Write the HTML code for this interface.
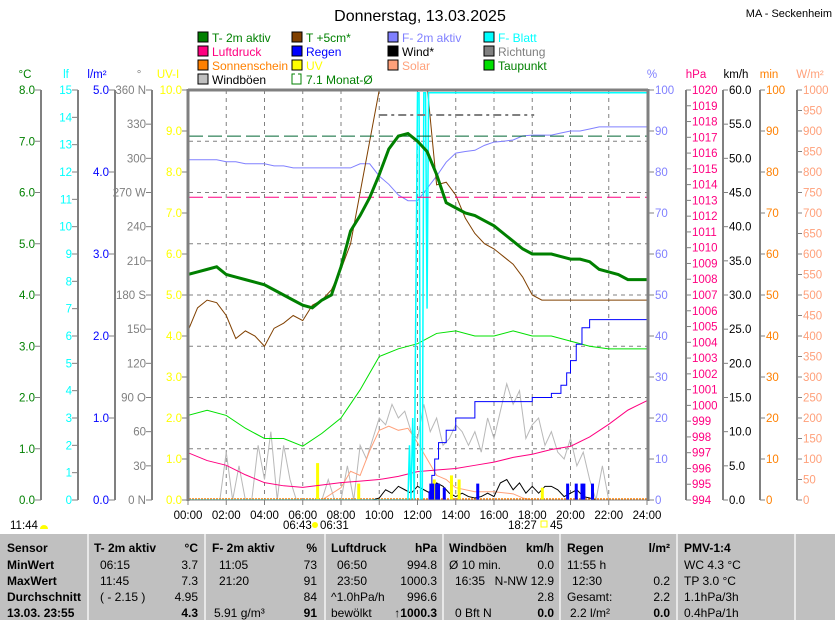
<!DOCTYPE html>
<html><head><meta charset="utf-8"><style>
html,body{margin:0;padding:0;background:#fff;}
svg{display:block;font-family:"Liberation Sans",sans-serif;font-size:12px;}
#axes text{font-size:11.5px;}
</style></head><body>
<svg id="chart" width="835" height="620" viewBox="0 0 835 620" xmlns="http://www.w3.org/2000/svg">
<defs><clipPath id="plotclip"><rect x="189" y="90" width="458" height="410"/></clipPath></defs>
<text x="420" y="21" font-size="16" text-anchor="middle">Donnerstag, 13.03.2025</text>
<text x="832" y="17" font-size="11" text-anchor="end">MA - Seckenheim</text>
<g id="legend"></g>
<g id="axes"></g>
<g id="grid"></g>
<g id="series" clip-path="url(#plotclip)"></g>
<g id="frame"></g>
<g id="table"></g>
</svg>
<script>
// ---------- data ----------
const xTickLabels = ["00:00","02:00","04:00","06:00","08:00","10:00","12:00","14:00","16:00","18:00","20:00","22:00","24:00"];
// half-hourly 0..24
const t2mValues = [4.4,4.45,4.5,4.55,4.4,4.35,4.3,4.25,4.2,4.1,4.0,3.9,3.8,3.75,3.9,4.0,4.55,5.25,5.55,5.9,6.35,6.85,7.1,7.15,7.0,6.8,6.35,5.8,5.7,5.6,5.55,5.45,5.35,5.2,5.05,4.9,4.8,4.8,4.8,4.75,4.7,4.7,4.65,4.5,4.45,4.4,4.3,4.3,4.3];
const t5cmValues = [3.3,3.75,3.9,3.85,3.6,3.15,3.3,3.2,3.0,3.35,3.45,3.6,3.5,3.8,3.9,4.1,4.5,5.0,6.0,7.0,8.0,9.5,11,11,10,8.1,6.15,6.2,5.95,5.5,5.2,5.0,4.9,4.75,4.6,4.35,4.0,3.9,3.9,3.9,3.9,3.9,3.9,3.9,3.9,3.9,3.9,3.9,3.9];
const humValues = [83,83,83,83,82.5,82.5,82,82,82,81.5,81.5,81,81,81,81,81,81,81,82,82,79,77,74.4,73,73,76,79,82.4,84.6,85,85.3,86.5,87.3,87.5,87.8,88.8,89,89,89,89.5,90,90,90.5,91,91,91,91,91,91];
// hourly 0..24
const pressureValues = [997.0,996.5,996.2,995.6,995.1,994.9,994.8,994.95,995.1,995.2,995.3,995.5,995.8,995.9,996.0,996.2,996.4,996.7,996.9,997.2,997.4,998.0,998.8,999.7,1000.3];
const dewValues = [1.65,1.75,1.65,1.4,1.2,1.2,1.05,1.3,1.6,2.15,2.8,2.95,3.05,3.25,3.3,3.2,3.2,3.3,3.2,3.2,3.1,3.0,2.95,2.95,2.95];
const rainHours = [0,12.6,12.75,12.9,13.1,13.5,14,15,17.5,18,19,19.5,19.8,20,20.3,20.6,21,24];
const rainValues = [0,0.1,0.3,0.5,0.7,0.85,1.0,1.2,1.2,1.25,1.3,1.4,1.55,1.7,1.9,2.1,2.2,2.2];
const rainRateHours = [12.7,12.8,13.0,13.1,13.4,15.15,19.85,20.3,20.6,20.7,21.15];
const rainRateValues = [0.2,0.2,0.2,0.2,0.15,0.2,0.2,0.2,0.2,0.2,0.2];
// 20-minute 0..24
const gustValues = [0,0,0,0,0,0,7,0,5,0,0,8,3,10,0,8,3,0,0,0,0,0,3,0,0,5,0,8,6,9,12,11,14,12,13,10,9,14,10,12,8,9,11,10,8,10,7,12,9,13,17,14,16,9,11,12,8,10,7,6,9,5,7,3,0,5,0,0,0,0,0,0,0];
const windValues = [0,0,0,0,0,0,0,0,0,0,0,0,0,0,0,0,0,0,0,0,0,0,0,0,0,0,0,0,0,0,0.3,1.5,1,2,1.5,1,2,1.5,1,2.5,2,1,0.5,1,0.5,0.3,0.5,1,0.5,2.5,3,1.5,2.5,1,2,1,2,2,1.5,0.5,1,1.5,0.5,0.3,0,0,0,0,0,0,0,0,0];
const solarHours = [0,7,8,8.5,9,9.5,10,10.5,11,11.5,12,12.5,13,13.5,14,15,16,17,17.5,18,24];
const solarValues = [0,0,30,70,60,120,170,180,170,175,140,100,60,50,30,20,20,15,5,0,0];
const leafHours = [0,11.5,11.58,11.66,11.75,11.83,12.0,12.08,12.16,12.25,12.33,12.42,12.5,12.58,24];
const leafValues = [0,0,2,0,3,0,14.9,14.9,0,0,14.9,14.9,7,14.9,14.9];
const uvHours = [6.75,8.9,12.85,13.75,14.15,18.5];
const uvValues = [0.9,0.4,0.5,0.6,0.5,0.3];
const dirFrom = 10.0, dirTo = 18.1, dirValue = 338;
const monthAvgTemp = 7.1, monthAvgPressure = 1013.2;

// ---------- scales ----------
const X = h => 188 + h * 19.125;
const yC = v => 500 - v * 51.25;
const yP = v => 500 - v * 4.1;
const yH = v => 500 - (v - 994) * 410 / 26;
const yL = v => 500 - v * 82;
const yK = v => 500 - v * 410 / 60;
const yW = v => 500 - v * 0.41;
const yF = v => 500 - v * 410 / 15;
const yU = v => 500 - v * 41;
const yD = v => 500 - v * 410 / 360;

const NS = "http://www.w3.org/2000/svg";
function mk(tag, attrs, parent){const e=document.createElementNS(NS,tag);for(const k in attrs)e.setAttribute(k,attrs[k]);parent.appendChild(e);return e;}
function txt(str, attrs, parent){const e=mk("text",attrs,parent);e.textContent=str;return e;}
const G = id => document.getElementById(id);

// ---------- legend ----------
const legCols=[198,292,388,484], legRows=[42,56,70,84];
const legendItems=[
 [0,0,"T- 2m aktiv","#008000","#008000"],[1,0,"T +5cm*","#804000","#008000"],[2,0,"F- 2m aktiv","#8080ff","#8080ff"],[3,0,"F- Blatt","#00ffff","#00ffff"],
 [0,1,"Luftdruck","#ff0080","#ff0080"],[1,1,"Regen","#0000ff","#0000ff"],[2,1,"Wind*","#000000","#000000"],[3,1,"Richtung","#808080","#808080"],
 [0,2,"Sonnenschein","#ff8000","#ff8000"],[1,2,"UV","#ffff00","#ffff00"],[2,2,"Solar","#ffa07a","#ffa07a"],[3,2,"Taupunkt","#00e000","#008000"],
 [0,3,"Windböen","#c0c0c0","#000000"],[1,3,"7.1 Monat-Ø","none","#008000"]];
legendItems.forEach(it=>{
 const x=legCols[it[0]], y=legRows[it[1]];
 const g=mk("g",{},G("legend"));
 
 
 if(it[3]==="none"){mk("path",{d:`M${x+3} ${y-10} H${x} V${y} H${x+9} V${y-10} H${x+6}`,fill:"none",stroke:"#008000"},g);}
 else mk("rect",{x:x,y:y-10,width:10,height:10,fill:it[3],stroke:"#000"},g);
 txt(it[2],{x:x+14,y:y,fill:it[4]},g);
});

// ---------- axes ----------
const ax=G("axes");
function axisTitle(s,x,col,anchor){const t=txt(s,{x:x,y:78,fill:col,"text-anchor":anchor||"middle"},ax);}
axisTitle("°C",25,"#008000");axisTitle("lf",66,"#00ffff");axisTitle("l/m²",97,"#0000ff");axisTitle("°",139,"#808080");axisTitle("UV-I",168,"#ffff00");
axisTitle("%",652,"#8080ff");axisTitle("hPa",696,"#ff0080");axisTitle("km/h",736,"#000");axisTitle("min",769,"#ff8000");axisTitle("W/m²",810,"#ffa07a");

function leftAxis(lineX, labels, values, scale, col, name){
 const g=mk("g",{},ax);
 
 
 mk("line",{x1:lineX,y1:90,x2:lineX,y2:500,stroke:"#808080","stroke-width":2},g);
 values.forEach((v,i)=>{const y=scale(v);mk("line",{x1:lineX-6,y1:y,x2:lineX,y2:y,stroke:"#808080"},g);txt(labels[i],{x:lineX-6,y:y+4,fill:col,"text-anchor":"end"},g);});
}
function rightAxis(lineX, labels, values, scale, col, name){
 const g=mk("g",{},ax);
 
 
 if(lineX>650) mk("line",{x1:lineX,y1:90,x2:lineX,y2:500,stroke:"#808080","stroke-width":2},g);
 values.forEach((v,i)=>{const y=scale(v);mk("line",{x1:lineX,y1:y,x2:lineX+5,y2:y,stroke:"#808080"},g);txt(labels[i],{x:lineX+6,y:y+4,fill:col},g);});
}
const cTicks=[0,1,2,3,4,5,6,7,8];
const lfTicks=[0,1,2,3,4,5,6,7,8,9,10,11,12,13,14,15];
const lTicks=[0,1,2,3,4,5];
const dTicks=[0,30,60,90,120,150,180,210,240,270,300,330,360];
const dLabels=["0 N","30","60","90 O","120","150","180 S","210","240","270 W","300","330","360 N"];
const uvTicks=[0,1,2,3,4,5,6,7,8,9,10];
const pTicks=[0,10,20,30,40,50,60,70,80,90,100];
const hTicks=[];for(let v=994;v<=1020;v++)hTicks.push(v);
const kTicks=[0,5,10,15,20,25,30,35,40,45,50,55,60];
const mTicks=[0,10,20,30,40,50,60,70,80,90,100];
const wTicks=[];for(let v=0;v<=1000;v+=50)wTicks.push(v);
leftAxis(41,cTicks.map(v=>v.toFixed(1)),cTicks,yC,"#008000","temp-axis");
leftAxis(78,lfTicks.map(String),lfTicks,yF,"#00ffff","leaf-axis");
leftAxis(115,lTicks.map(v=>v.toFixed(1)),lTicks,yL,"#0000ff","rain-axis");
leftAxis(152,dLabels,dTicks,yD,"#808080","direction-axis");
leftAxis(188,uvTicks.map(v=>v.toFixed(1)),uvTicks,yU,"#ffff00","uv-axis");
rightAxis(649,pTicks.map(String),pTicks,yP,"#8080ff","humidity-axis");
rightAxis(686,hTicks.map(String),hTicks,yH,"#ff0080","pressure-axis");
rightAxis(723,kTicks.map(v=>v.toFixed(1)),kTicks,yK,"#000","wind-axis");
rightAxis(760,mTicks.map(String),mTicks,v=>500-v*4.1,"#ff8000","sunshine-axis");
rightAxis(797,wTicks.map(String),wTicks,yW,"#ffa07a","solar-axis");
xTickLabels.forEach((s,i)=>{const x=X(i*2);mk("line",{x1:x,y1:500,x2:x,y2:505,stroke:"#808080"},ax);const t=txt(s,{x:x,y:519,"text-anchor":"middle"},ax);});
txt("06:43",{x:283,y:529},ax);txt("06:31",{x:320,y:529},ax);
mk("circle",{cx:315,cy:525,r:3,fill:"#ffff00"},ax);
txt("18:27",{x:508,y:529},ax);mk("rect",{x:541,y:521,width:6,height:6,fill:"none",stroke:"#ffff00"},ax);txt("45",{x:550,y:529},ax);
txt("11:44",{x:10,y:529},ax);mk("path",{d:"M40 529 a4 4 0 0 1 8 0 z",fill:"#ffff00"},ax);

// ---------- grid ----------
const gr=G("grid");
for(let i=1;i<12;i++){const x=X(i*2);mk("line",{x1:x,y1:90,x2:x,y2:500,stroke:"#808080","stroke-dasharray":"4 4"},gr);}
for(let v=1;v<8;v++){const y=yC(v);mk("line",{x1:189,y1:y,x2:647,y2:y,stroke:"#808080","stroke-dasharray":"4 4"},gr);}

// ---------- series ----------
const S=G("series");
function poly(hours, vals, scale, col, w, name, step){
 let d="";hours.forEach((h,i)=>{const x=X(h),y=scale(vals[i]);if(i===0)d+=`M${x} ${y}`;else if(step)d+=` H${x} V${y}`;else d+=` L${x} ${y}`;});
 const p=mk("path",{d:d,fill:"none",stroke:col,"stroke-width":w},S);return p;
}
const half=t2mValues.map((_,i)=>i*0.5);
const hourly=pressureValues.map((_,i)=>i);
const third=gustValues.map((_,i)=>i/3);
let e;
e=poly(third,gustValues,yK,"#b8b8b8",1);


e=poly(solarHours,solarValues,yW,"#ffa07a",1);


e=mk("line",{x1:189,y1:499,x2:647,y2:499,stroke:"#ff8000","stroke-width":1.5,"stroke-dasharray":"2 1"},S);


e=poly(third,windValues,yK,"#000",1);


uvHours.forEach((h,i)=>{const b=mk("rect",{x:X(h)-1,y:yU(uvValues[i]),width:3,height:500-yU(uvValues[i]),fill:"#ffff00"},S);
 
 });
rainRateHours.forEach((h,i)=>{const b=mk("rect",{x:X(h)-1.5,y:yL(rainRateValues[i]),width:3,height:500-yL(rainRateValues[i]),fill:"#0000ff"},S);
 
 });
e=poly(hourly,pressureValues,yH,"#ff0080",1);


e=poly(hourly,dewValues,yC,"#00e000",1);


e=poly(rainHours,rainValues,yL,"#0000ff",1,null,true);


e=poly(half,humValues,yP,"#8080ff",1);


e=poly(half,t5cmValues,yC,"#804000",1);


e=poly(leafHours,leafValues,yF,"#00ffff",1.5);


e=mk("line",{x1:189,y1:yC(monthAvgTemp),x2:647,y2:yC(monthAvgTemp),stroke:"#006633","stroke-dasharray":"14 5"},S);


e=mk("line",{x1:189,y1:yH(monthAvgPressure),x2:647,y2:yH(monthAvgPressure),stroke:"#ff0080","stroke-dasharray":"14 5"},S);


e=mk("line",{x1:X(dirFrom),y1:yD(dirValue),x2:X(dirTo),y2:yD(dirValue),stroke:"#808080","stroke-width":2,"stroke-dasharray":"8 4 3 4"},S);


e=poly(half,t2mValues,yC,"#008000",3);



// ---------- frame ----------
const fr=G("frame");
mk("line",{x1:188,y1:90,x2:648,y2:90,stroke:"#808080","stroke-width":3},fr);
mk("line",{x1:188,y1:89,x2:188,y2:501,stroke:"#808080","stroke-width":3},fr);
mk("line",{x1:648,y1:89,x2:648,y2:501,stroke:"#808080","stroke-width":3},fr);
mk("line",{x1:188,y1:500,x2:648,y2:500,stroke:"#808080","stroke-width":1},fr);

// ---------- table ----------
const tb=G("table");
mk("rect",{x:0,y:534,width:835,height:86,fill:"#c0c0c0"},tb);
[88,205,325,443,560,677,795].forEach(x=>{mk("line",{x1:x,y1:534,x2:x,y2:620,stroke:"#e8e8e8","stroke-width":2},tb);});
const rows=[552,569,585,601,617];
function cell(s,x,r,bold,anchor){const t=txt(s,{x:x,y:rows[r],"font-weight":bold?"bold":"normal","text-anchor":anchor||"start"},tb);}
cell("Sensor",7,0,1);cell("MinWert",7,1,1);cell("MaxWert",7,2,1);cell("Durchschnitt",7,3,1);cell("13.03. 23:55",7,4,1);
cell("T- 2m aktiv",94,0,1);cell("°C",198,0,1,"end");
cell("06:15",100,1);cell("3.7",198,1,0,"end");cell("11:45",100,2);cell("7.3",198,2,0,"end");cell("( - 2.15 )",100,3);cell("4.95",198,3,0,"end");cell("4.3",198,4,1,"end");
cell("F- 2m aktiv",212,0,1);cell("%",317,0,1,"end");
cell("11:05",219,1);cell("73",317,1,0,"end");cell("21:20",219,2);cell("91",317,2,0,"end");cell("84",317,3,0,"end");cell("5.91 g/m³",214,4);cell("91",317,4,1,"end");
cell("Luftdruck",331,0,1);cell("hPa",437,0,1,"end");
cell("06:50",337,1);cell("994.8",437,1,0,"end");cell("23:50",337,2);cell("1000.3",437,2,0,"end");cell("^1.0hPa/h",331,3);cell("996.6",437,3,0,"end");cell("bewölkt",331,4);cell("↑1000.3",437,4,1,"end");
cell("Windböen",449,0,1);cell("km/h",554,0,1,"end");
cell("Ø 10 min.",449,1);cell("0.0",554,1,0,"end");cell("16:35",455,2);cell("N-NW 12.9",554,2,0,"end");cell("2.8",554,3,0,"end");cell("0 Bft N",455,4);cell("0.0",554,4,1,"end");
cell("Regen",567,0,1);cell("l/m²",670,0,1,"end");
cell("11:55 h",567,1);cell("12:30",572,2);cell("0.2",670,2,0,"end");cell("Gesamt:",567,3);cell("2.2",670,3,0,"end");cell("2.2 l/m²",570,4);cell("0.0",670,4,1,"end");
cell("PMV-1:4",684,0,1);cell("WC 4.3 °C",684,1);cell("TP 3.0 °C",684,2);cell("1.1hPa/3h",684,3);cell("0.4hPa/1h",684,4);
</script>
</body></html>
